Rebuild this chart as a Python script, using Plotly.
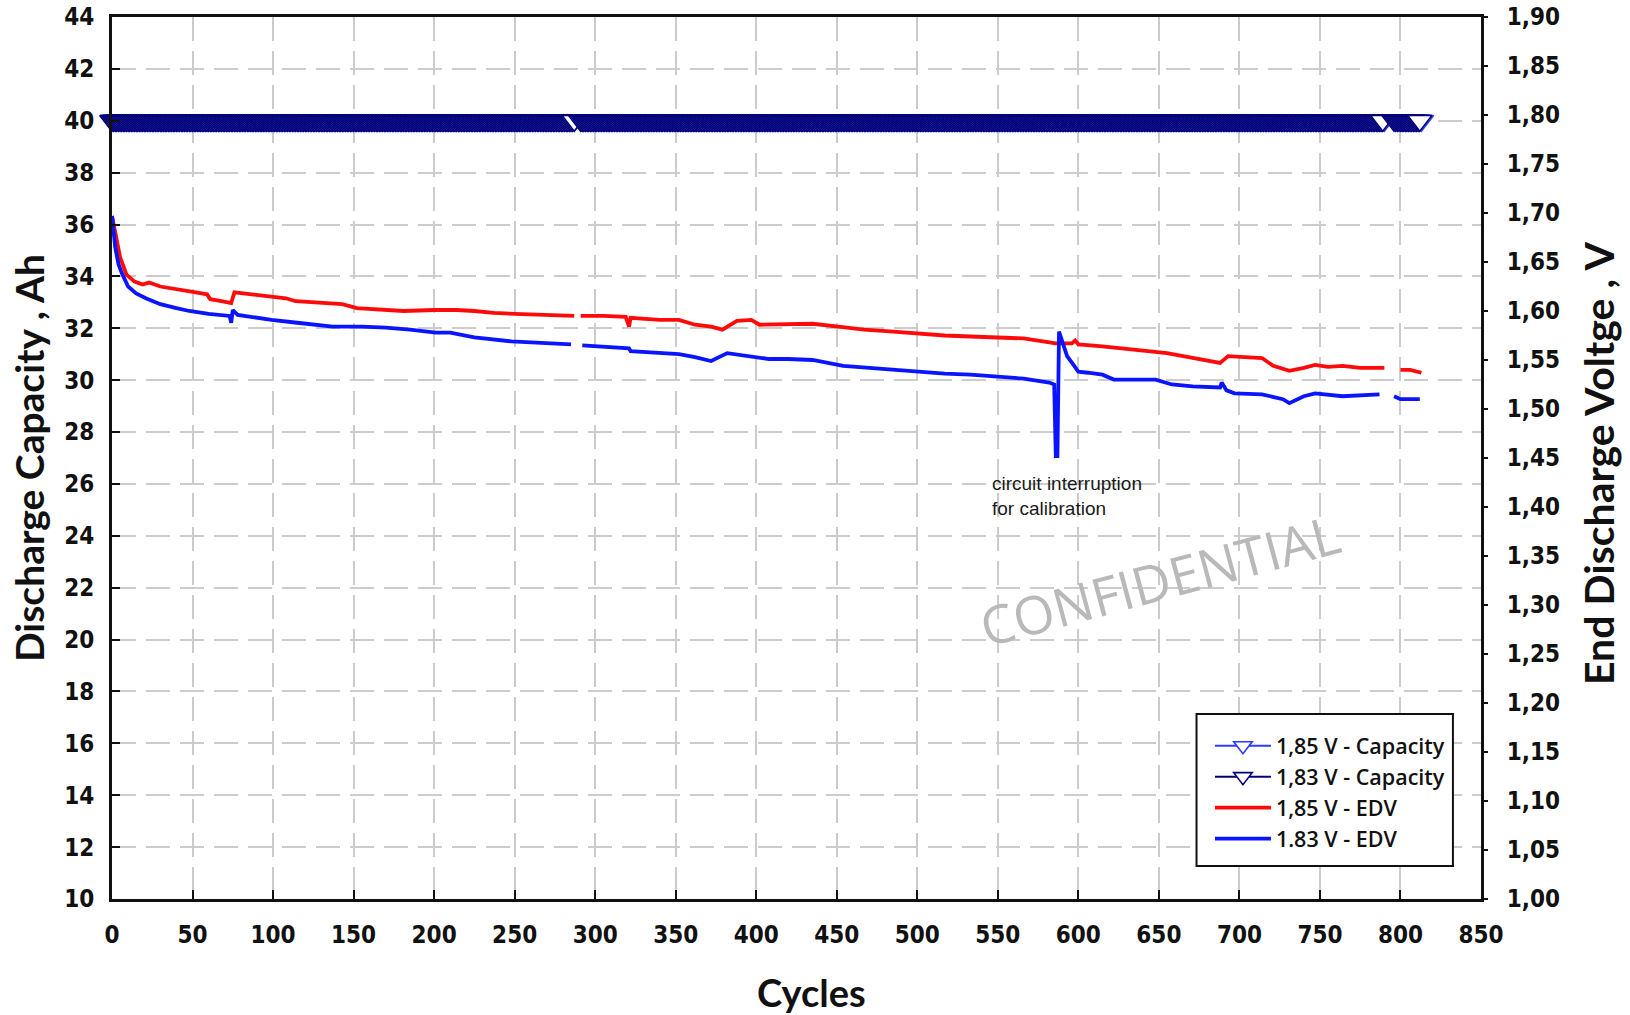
import plotly.graph_objects as go

# ---------------- data ----------------
# 1,85 V - EDV (right axis, V); None marks a gap in the record
red_cycles = [0, 2, 5, 9, 14, 19, 23, 30, 43, 52, 59, 61, 68, 74, 76, 86, 97, 108, 114, 130,
              143, 152, 165, 181, 200, 214, 225, 237, 250, 270, 287, 289, 291, 305, 319, 321,
              322, 340, 352, 362, 372, 379, 388, 397, 402, 420, 435, 451, 467, 485, 500, 517,
              533, 550, 566, 586, 596, 598, 600, 615, 632, 645, 655, 665, 680, 688, 693, 705,
              714, 721, 731, 740, 747, 755, 764, 775, 790, 795, 800, 806, 813]
red_edv = [1.697, 1.680, 1.655, 1.637, 1.630, 1.627, 1.629, 1.625, 1.622, 1.619, 1.617, 1.612,
           1.610, 1.608, 1.619, 1.617, 1.615, 1.613, 1.610, 1.608, 1.607, 1.603, 1.602, 1.600,
           1.601, 1.601, 1.600, 1.598, 1.597, 1.596, 1.595, None, 1.595, 1.595, 1.594, 1.584,
           1.593, 1.591, 1.591, 1.586, 1.584, 1.581, 1.590, 1.591, 1.586, 1.587, 1.587, 1.584,
           1.581, 1.579, 1.577, 1.575, 1.574, 1.573, 1.572, 1.567, 1.567, 1.570, 1.566, 1.564,
           1.561, 1.559, 1.557, 1.554, 1.550, 1.547, 1.554, 1.553, 1.552, 1.544, 1.539, 1.542,
           1.545, 1.543, 1.544, 1.542, 1.542, None, 1.540, 1.540, 1.537]

# 1.83 V - EDV (right axis, V)
blue_cycles = [0, 2, 4, 6, 10, 15, 21, 30, 40, 48, 60, 73, 74, 75, 78, 90, 99, 115, 137, 155,
               170, 185, 201, 210, 225, 248, 265, 285, 288, 292, 305, 321, 322, 340, 352, 362,
               372, 382, 395, 408, 420, 435, 454, 470, 484, 500, 517, 533, 550, 566, 582, 585,
               586, 587, 588, 590, 593, 597, 600, 606, 615, 622, 632, 648, 658, 671, 688, 689,
               692, 697, 714, 727, 731, 740, 747, 764, 787, 792, 796, 800, 812]
blue_edv = [1.697, 1.665, 1.648, 1.639, 1.625, 1.618, 1.613, 1.607, 1.603, 1.600, 1.597, 1.595,
            1.588, 1.601, 1.596, 1.593, 1.591, 1.588, 1.584, 1.584, 1.583, 1.581, 1.578, 1.578,
            1.573, 1.569, 1.568, 1.566, None, 1.565, 1.564, 1.562, 1.559, 1.557, 1.556, 1.553,
            1.549, 1.557, 1.554, 1.551, 1.551, 1.550, 1.544, 1.542, 1.540, 1.538, 1.536, 1.535,
            1.533, 1.531, 1.527, 1.525, 1.452, 1.452, 1.579, 1.568, 1.554, 1.545, 1.538, 1.537,
            1.535, 1.530, 1.530, 1.530, 1.525, 1.523, 1.522, 1.527, 1.519, 1.516, 1.515, 1.510,
            1.506, 1.513, 1.516, 1.513, 1.515, None, 1.513, 1.510, 1.510]

# Discharge capacity (left axis, Ah): every cycle delivered 40 Ah; recorded cycle ranges
capacity_ah = 40
cap_185_ranges = [(0, 287), (291, 790), (800, 813)]
cap_183_ranges = [(0, 287), (291, 789), (796, 812)]

x_ticks = list(range(0, 851, 50))
left_ticks = list(range(10, 45, 2))


def expand(ranges, value):
    xs, ys = [], []
    for a, b in ranges:
        for c in range(a, b + 1):
            xs.append(c)
            ys.append(value)
        xs.append(None)
        ys.append(None)
    return xs, ys


TICK_FONT = dict(family="Liberation Sans Narrow, DejaVu Sans Condensed, Arial Narrow, sans-serif",
                 size=24, color="#111111", weight="bold")
TITLE_FONT = dict(family="Lato, Open Sans, sans-serif", size=39, color="#111111", weight="bold")

fig = go.Figure()

x185, y185 = expand(cap_185_ranges, capacity_ah)
x183, y183 = expand(cap_183_ranges, capacity_ah)

fig.add_trace(go.Scatter(
    x=x185, y=y185, name="1,85 V - Capacity", mode="lines+markers",
    line=dict(color="#2a3cff", width=2),
    marker=dict(symbol="triangle-down", size=21, color="white",
                line=dict(color="#2a3cff", width=1.6)),
    cliponaxis=False, connectgaps=False))
fig.add_trace(go.Scatter(
    x=x183, y=y183, name="1,83 V - Capacity", mode="lines+markers",
    line=dict(color="#00007a", width=2),
    marker=dict(symbol="triangle-down", size=21, color="white",
                line=dict(color="#00007a", width=1.6)),
    cliponaxis=False, connectgaps=False))
fig.add_trace(go.Scatter(
    x=red_cycles, y=red_edv, name="1,85 V - EDV", mode="lines", yaxis="y2",
    line=dict(color="#ff0a0a", width=3.8), connectgaps=False))
fig.add_trace(go.Scatter(
    x=blue_cycles, y=blue_edv, name="1.83 V - EDV", mode="lines", yaxis="y2",
    line=dict(color="#0a14ff", width=3.8), connectgaps=False))

grid = dict(showgrid=True, gridcolor="#cccccc", gridwidth=2, griddash="24px,10px")

fig.update_layout(
    width=1630, height=1015,
    margin=dict(l=112, r=149, t=17, b=116, autoexpand=False),
    paper_bgcolor="white", plot_bgcolor="white",
    separators=",.",
    showlegend=True,
    legend=dict(x=0.802, y=0.197, xanchor="left", yanchor="top",
                bgcolor="rgba(255,255,255,0)", borderwidth=0,
                font=dict(family="Open Sans, sans-serif", size=21.5, color="#111111", weight=600),
                itemwidth=56, tracegroupgap=0),
    xaxis=dict(range=[0, 850], tickvals=x_ticks, ticks="inside", ticklen=9, tickwidth=2,
               tickcolor="#111111", showline=True, linewidth=3, linecolor="#111111",
               mirror=True, tickfont=TICK_FONT, ticklabelstandoff=12, zeroline=False,
               automargin=False, **grid),
    yaxis=dict(range=[10, 44], tickvals=left_ticks, ticks="inside", ticklen=8, tickwidth=2,
               tickcolor="#111111", showline=True, linewidth=3, linecolor="#111111",
               mirror=True, tickfont=TICK_FONT, ticklabelstandoff=10, zeroline=False,
               automargin=False, **grid),
    yaxis2=dict(range=[1.0, 1.9], dtick=0.05, tickformat=".2f", overlaying="y", side="right",
                ticks="outside", ticklen=5, tickwidth=2, tickcolor="#111111",
                showline=True, linewidth=2, linecolor="#111111", showgrid=False,
                zeroline=False, tickfont=TICK_FONT, ticklabelstandoff=14, automargin=False),
)

# legend frame
fig.add_shape(type="rect", xref="paper", yref="paper", x0=0.7922, x1=0.9795, y0=0.0374, y1=0.2098,
              line=dict(color="#111111", width=2), fillcolor="white", layer="above")

fig.add_annotation(text="Discharge Capacity , Ah", xref="paper", yref="paper", x=0, y=0.5,
                   xanchor="center", yanchor="middle", xshift=-83, textangle=-90,
                   showarrow=False, font=TITLE_FONT)
fig.add_annotation(text="End Discharge Voltge , V", xref="paper", yref="paper", x=1, y=0.5,
                   xanchor="center", yanchor="middle", xshift=117, yshift=-6, textangle=-90,
                   showarrow=False, font=dict(family="Lato, Open Sans, sans-serif", size=41,
                                              color="#111111", weight="bold"))
fig.add_annotation(text="Cycles", xref="paper", yref="paper", x=0.5, y=0,
                   xanchor="center", yanchor="middle", yshift=-93, xshift=15,
                   showarrow=False, font=dict(family="Lato, Open Sans, sans-serif", size=38,
                                              color="#111111", weight="bold"))
fig.add_annotation(text="circuit interruption<br>for calibration", x=545, y=26.5,
                   xanchor="left", yanchor="top", align="left", showarrow=False,
                   font=dict(family="Liberation Sans, Arial, sans-serif", size=19, color="#1a1a1a"))
fig.add_annotation(text="CONFIDENTIAL", x=651, y=22.3, xanchor="center", yanchor="middle",
                   textangle=-15, showarrow=False,
                   font=dict(family="Open Sans, sans-serif", size=53, color="#b9b9b9"))

fig.write_html("out.html")
